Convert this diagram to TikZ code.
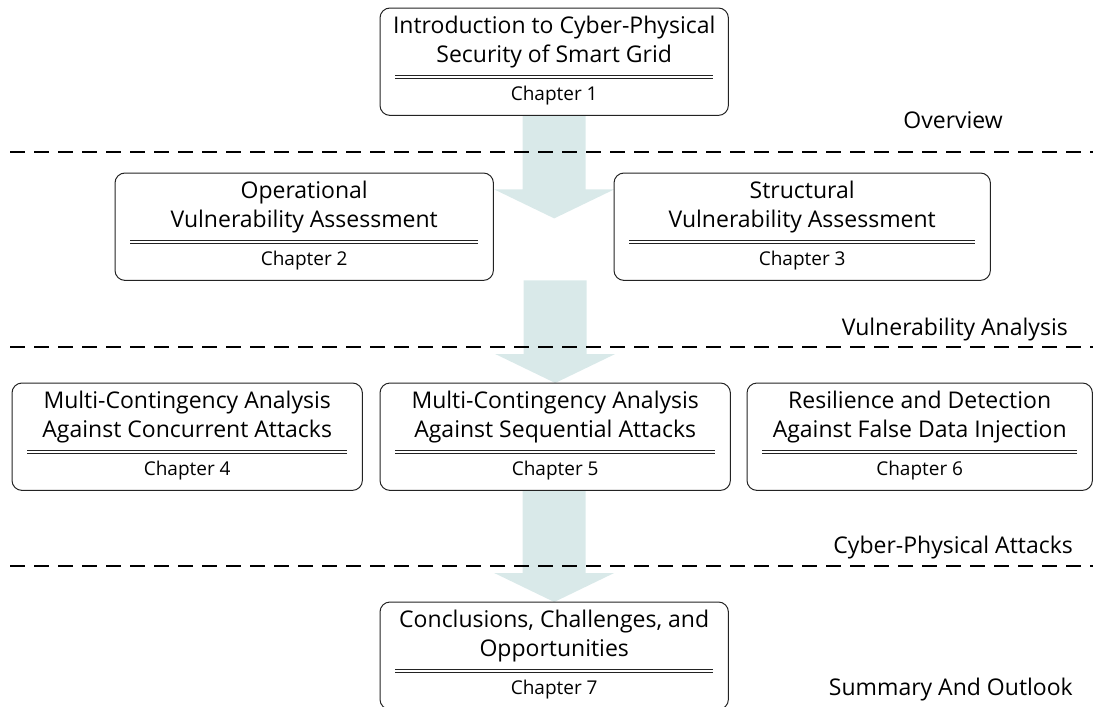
\documentclass[tikz,border=0pt]{standalone}
\usepackage{fontspec}
\setmainfont{Open Sans}
\usetikzlibrary{calc}

\definecolor{flowfill}{RGB}{217,233,233}
\definecolor{boxline}{RGB}{35,35,35}

\tikzset{
  chbox/.style={inner sep=0pt, minimum width=#1, minimum height=107pt, anchor=north west},
  frame/.style={draw=boxline, line width=1pt, rounded corners=10pt},
  titleline/.style={anchor=base, inner sep=0pt, font=\fontsize{23}{27}\selectfont},
  chapline/.style={anchor=base, inner sep=0pt, font=\fontsize{19}{23}\selectfont},
  ruleline/.style={draw=boxline, line width=0.9pt},
  sepline/.style={draw=black, line width=1.8pt, dash pattern=on 15pt off 9pt},
  partlabel/.style={anchor=base east, inner sep=0pt, font=\fontsize{23}{27}\selectfont},
}

% wide block arrow from the top point #1 down to the tip #2
\newcommand\blockarrow[2]{%
  \fill[flowfill] let \p1=(#1), \p2=(#2) in
    (\x2-31.5pt,\y1) -- (\x2+31.5pt,\y1) -- (\x2+31.5pt,\y2+29pt) --
    (\x2+60pt,\y2+29pt) -- (\x2,\y2) -- (\x2-60pt,\y2+29pt) --
    (\x2-31.5pt,\y2+29pt) -- cycle;}

% contents of one chapter box: two title lines, double rule, chapter text
\newcommand\chapterbox[4]{%
  \node[titleline] (#1a) at ($(#1.north)+(0,25)$) {#2};
  \node[titleline] (#1b) at ($(#1.north)+(0,54)$) {#3};
  \coordinate (#1rl) at ($(#1.north west)+(15,67.6)$);
  \coordinate (#1rr) at ($(#1.north east)+(-15,67.6)$);
  \coordinate (#1sl) at ($(#1.north west)+(15,70.6)$);
  \coordinate (#1sr) at ($(#1.north east)+(-15,70.6)$);
  \draw[ruleline] (#1rl) -- (#1rr);
  \draw[ruleline] (#1sl) -- (#1sr);
  \node[chapline] (#1c) at ($(#1.north)+(0,92)$) {#4};}

\begin{document}
\begin{tikzpicture}[x=1pt, y=-1pt]
\useasboundingbox (0,0) rectangle (1093,707);

% box areas
\node[chbox=348pt] (b1) at (380,8) {};
\node[chbox=378pt] (b2) at (115,173) {};
\node[chbox=376pt] (b3) at (614,173) {};
\node[chbox=350pt] (b4) at (12,383) {};
\node[chbox=350pt] (b5) at (380,383) {};
\node[chbox=345pt] (b6) at (747,383) {};
\node[chbox=348pt] (b7) at (380,602) {};

\coordinate (tip1) at ($(b1.south)+(0,103)$);
\coordinate (top2) at (b1.south |- b2.south);

% flow arrows between the levels
\blockarrow{b1.south}{tip1}
\blockarrow{top2}{b5.north}
\blockarrow{b5.south}{b7.north}

% frames on top of the arrows
\foreach \b in {b1,b2,b3,b4,b5,b6,b7}
  \draw[frame] (\b.north west) rectangle (\b.south east);

\chapterbox{b1}{Introduction to Cyber-Physical}{Security of Smart Grid}{Chapter 1}
\chapterbox{b2}{Operational}{Vulnerability Assessment}{Chapter 2}
\chapterbox{b3}{Structural}{Vulnerability Assessment}{Chapter 3}
\chapterbox{b4}{Multi-Contingency Analysis}{Against Concurrent Attacks}{Chapter 4}
\chapterbox{b5}{Multi-Contingency Analysis}{Against Sequential Attacks}{Chapter 5}
\chapterbox{b6}{Resilience and Detection}{Against False Data Injection}{Chapter 6}
\chapterbox{b7}{Conclusions, Challenges, and}{Opportunities}{Chapter 7}

% level separators
\coordinate (s1l) at (10,152);  \coordinate (s1r) at (1093,152);
\coordinate (s2l) at (10,347);  \coordinate (s2r) at (1093,347);
\coordinate (s3l) at (10,566);  \coordinate (s3r) at (1093,566);
\draw[sepline] (s1l) -- (s1r);
\draw[sepline] (s2l) -- (s2r);
\draw[sepline] (s3l) -- (s3r);

% level names
\node[partlabel] (l1) at (1003,128) {Overview};
\node[partlabel] (l2) at (1068,335) {Vulnerability Analysis};
\node[partlabel] (l3) at (1073,553) {Cyber-Physical Attacks};
\node[partlabel] (l4) at (1073,695) {Summary And Outlook};
\end{tikzpicture}
\end{document}
